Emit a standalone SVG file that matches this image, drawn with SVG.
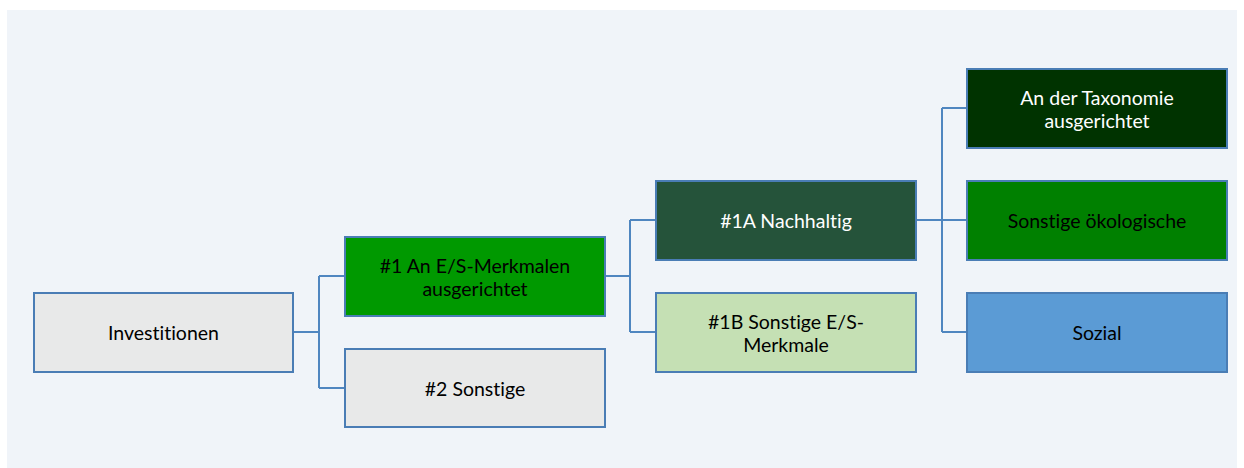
<svg xmlns="http://www.w3.org/2000/svg" width="1244" height="468" viewBox="0 0 1244 468">
<style>
.box{stroke:#4a7db5;stroke-width:2}
.t{font-family:Lato,"Open Sans","Liberation Sans",sans-serif;font-size:19.5px;font-variant-ligatures:none;text-anchor:middle;dominant-baseline:central;fill:#000}
.w{fill:#fff}
.c{fill:none;stroke:#4f86c0;stroke-width:2}
</style>
<rect x="0" y="0" width="1244" height="468" fill="#fff"/>
<rect x="7" y="10" width="1230" height="458" fill="#f0f4f9"/>
<g id="connectors">
<path class="c" d="M293 332H319M319 276V388M319 276H345M319 388H345"/>
<path class="c" d="M605 276H630M630 220V332M630 220H656M630 332H656"/>
<path class="c" d="M916 220H942M942 108V332M942 108H967M942 220H967M942 332H967"/>
</g>
<g id="investitionen">
<rect class="box" x="34" y="293" width="259" height="79" fill="#e8e9e9"/>
<text class="t" x="163.5" y="332">Investitionen</text>
</g>
<g id="n1">
<rect class="box" x="345" y="237" width="260" height="79" fill="#009900"/>
<text class="t" x="475" y="265">#1 An E/S-Merkmalen</text>
<text class="t" x="475" y="288">ausgerichtet</text>
</g>
<g id="n2">
<rect class="box" x="345" y="349" width="260" height="78" fill="#e8e9e9"/>
<text class="t" x="475" y="388">#2 Sonstige</text>
</g>
<g id="n1a">
<rect class="box" x="656" y="181" width="260" height="79" fill="#25533a"/>
<text class="t w" x="786" y="220">#1A Nachhaltig</text>
</g>
<g id="n1b">
<rect class="box" x="656" y="293" width="260" height="79" fill="#c5e0b4"/>
<text class="t" x="786" y="321">#1B Sonstige E/S-</text>
<text class="t" x="786" y="344">Merkmale</text>
</g>
<g id="taxonomie">
<rect class="box" x="967" y="69" width="260" height="79" fill="#003300"/>
<text class="t w" x="1097" y="97">An der Taxonomie</text>
<text class="t w" x="1097" y="120">ausgerichtet</text>
</g>
<g id="oekologisch">
<rect class="box" x="967" y="181" width="260" height="79" fill="#008000"/>
<text class="t" x="1097" y="220">Sonstige ökologische</text>
</g>
<g id="sozial">
<rect class="box" x="967" y="293" width="260" height="79" fill="#5b9bd5"/>
<text class="t" x="1097" y="332">Sozial</text>
</g>
</svg>
